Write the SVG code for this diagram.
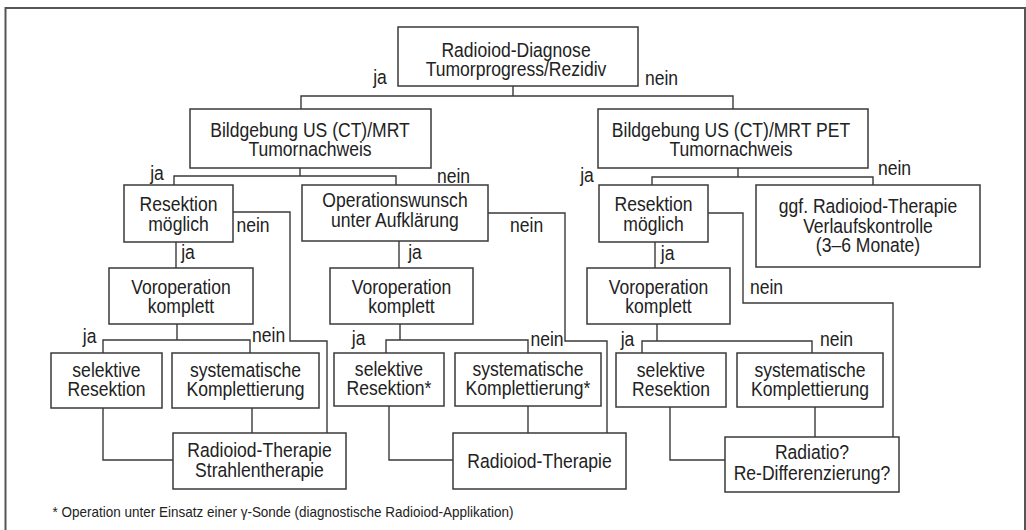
<svg xmlns="http://www.w3.org/2000/svg" width="1026" height="530" viewBox="0 0 1026 530">
  <style>
    .frame{fill:none;stroke:#555;stroke-width:2}
    .box{fill:#fff;stroke:#3a3a3a;stroke-width:1.5}
    .wire{fill:none;stroke:#3a3a3a;stroke-width:1.4}
    text{font-family:"Liberation Sans",Arial,sans-serif;font-size:19.5px;fill:#222;text-anchor:middle;
         transform-box:fill-box;transform-origin:center;transform:scaleX(0.9)}
    .note{font-size:15px}
  </style>
  <rect width="1026" height="530" fill="#fff"/>
  <!-- open outer frame -->
  <path class="frame" d="M5.5,535 V8 H1025 V535"/>

  <!-- connectors -->
  <g id="connectors">
    <path class="wire" d="M513,86 V96 M301,109 V96 H733 V109"/>
    <path class="wire" d="M300,168 V176 M174,185 V176 H396 V185"/>
    <path class="wire" d="M738,168 V177 M652,185 V177 H873 V185"/>
    <path class="wire" d="M176,242 V268"/>
    <path class="wire" d="M233,212 H290 V341 H327 V433"/>
    <path class="wire" d="M177,324 V340 M103,353 V340 H250 V353"/>
    <path class="wire" d="M103,408 V460 H173"/>
    <path class="wire" d="M252,408 V433"/>
    <path class="wire" d="M399,241 V268"/>
    <path class="wire" d="M488,213 H565 V341 H607 V433"/>
    <path class="wire" d="M400,324 V340 M386,353 V340 H528 V353"/>
    <path class="wire" d="M389,406 V460 H453"/>
    <path class="wire" d="M528,406 V433"/>
    <path class="wire" d="M655,242 V268"/>
    <path class="wire" d="M708,213 H743 V303 H893 V437"/>
    <path class="wire" d="M657,324 V341 M642,353 V341 H812 V353"/>
    <path class="wire" d="M670,407 V460 H725"/>
    <path class="wire" d="M815,407 V437"/>
  </g>

  <!-- branch labels -->
  <g id="labels">
    <text x="380" y="84">ja</text>
    <text x="661.5" y="85">nein</text>
    <text x="157" y="180">ja</text>
    <text x="453.5" y="183">nein</text>
    <text x="587" y="182.5">ja</text>
    <text x="894.5" y="175">nein</text>
    <text x="253" y="232">nein</text>
    <text x="188" y="259">ja</text>
    <text x="89.7" y="343">ja</text>
    <text x="268.7" y="342.3">nein</text>
    <text x="526.7" y="231.7">nein</text>
    <text x="415" y="259.3">ja</text>
    <text x="358.7" y="345">ja</text>
    <text x="547" y="345.7">nein</text>
    <text x="667.7" y="260">ja</text>
    <text x="766.5" y="294">nein</text>
    <text x="627.5" y="345.7">ja</text>
    <text x="836.5" y="345.7">nein</text>
  </g>

  <g id="n-diagnose">
    <rect class="box" x="398" y="27" width="240" height="59"/>
    <text x="516"><tspan x="516" y="57">Radioiod-Diagnose</tspan><tspan x="516" y="76.5">Tumorprogress/Rezidiv</tspan></text>
  </g>
  <g id="n-bild-left">
    <rect class="box" x="190" y="109" width="241" height="59"/>
    <text x="310"><tspan x="310" y="137">Bildgebung US (CT)/MRT</tspan><tspan x="310" y="156">Tumornachweis</tspan></text>
  </g>
  <g id="n-bild-right">
    <rect class="box" x="598" y="109" width="270" height="59"/>
    <text x="731"><tspan x="731" y="137">Bildgebung US (CT)/MRT PET</tspan><tspan x="731" y="156">Tumornachweis</tspan></text>
  </g>
  <g id="n-resektion-left">
    <rect class="box" x="124" y="185" width="109" height="57"/>
    <text x="178.5"><tspan x="178.5" y="210.7">Resektion</tspan><tspan x="178.5" y="230.7">möglich</tspan></text>
  </g>
  <g id="n-opwunsch">
    <rect class="box" x="302" y="185" width="186" height="56"/>
    <text x="395"><tspan x="395" y="207.3">Operationswunsch</tspan><tspan x="395" y="227.3">unter Aufklärung</tspan></text>
  </g>
  <g id="n-resektion-right">
    <rect class="box" x="599" y="185" width="109" height="57"/>
    <text x="653.5"><tspan x="653.5" y="210.7">Resektion</tspan><tspan x="653.5" y="230.7">möglich</tspan></text>
  </g>
  <g id="n-verlauf">
    <rect class="box" x="756" y="185" width="224" height="82"/>
    <text x="868"><tspan x="868" y="212.7">ggf. Radioiod-Therapie</tspan><tspan x="868" y="232.7">Verlaufskontrolle</tspan><tspan x="868" y="252">(3–6 Monate)</tspan></text>
  </g>
  <g id="n-vorop-left">
    <rect class="box" x="109" y="268" width="144" height="56"/>
    <text x="181"><tspan x="181" y="294">Voroperation</tspan><tspan x="181" y="313">komplett</tspan></text>
  </g>
  <g id="n-vorop-mid">
    <rect class="box" x="330" y="268" width="143" height="56"/>
    <text x="401.5"><tspan x="401.5" y="294">Voroperation</tspan><tspan x="401.5" y="313">komplett</tspan></text>
  </g>
  <g id="n-vorop-right">
    <rect class="box" x="587" y="268" width="143" height="56"/>
    <text x="658.5"><tspan x="658.5" y="294">Voroperation</tspan><tspan x="658.5" y="313">komplett</tspan></text>
  </g>
  <g id="n-sel-left">
    <rect class="box" x="51" y="353" width="111" height="55"/>
    <text x="106.5"><tspan x="106.5" y="376.7">selektive</tspan><tspan x="106.5" y="396">Resektion</tspan></text>
  </g>
  <g id="n-sys-left">
    <rect class="box" x="172" y="353" width="147" height="55"/>
    <text x="245.5"><tspan x="245.5" y="376.7">systematische</tspan><tspan x="245.5" y="396">Komplettierung</tspan></text>
  </g>
  <g id="n-sel-mid">
    <rect class="box" x="334" y="353" width="110" height="53"/>
    <text x="389"><tspan x="389" y="376">selektive</tspan><tspan x="389" y="395.5">Resektion*</tspan></text>
  </g>
  <g id="n-sys-mid">
    <rect class="box" x="455" y="353" width="146" height="53"/>
    <text x="528"><tspan x="528" y="376">systematische</tspan><tspan x="528" y="395.5">Komplettierung*</tspan></text>
  </g>
  <g id="n-sel-right">
    <rect class="box" x="616" y="353" width="110" height="54"/>
    <text x="671"><tspan x="671" y="376.7">selektive</tspan><tspan x="671" y="396">Resektion</tspan></text>
  </g>
  <g id="n-sys-right">
    <rect class="box" x="737" y="353" width="146" height="54"/>
    <text x="810"><tspan x="810" y="376.7">systematische</tspan><tspan x="810" y="396">Komplettierung</tspan></text>
  </g>
  <g id="n-therapie-left">
    <rect class="box" x="173" y="433" width="173" height="56"/>
    <text x="259.5"><tspan x="259.5" y="456.7">Radioiod-Therapie</tspan><tspan x="259.5" y="477.3">Strahlentherapie</tspan></text>
  </g>
  <g id="n-therapie-mid">
    <rect class="box" x="453" y="433" width="173" height="56"/>
    <text x="539.5" y="468">Radioiod-Therapie</text>
  </g>
  <g id="n-radiatio">
    <rect class="box" x="725" y="437" width="174" height="55"/>
    <text x="812"><tspan x="812" y="459.3">Radiatio?</tspan><tspan x="812" y="480">Re-Differenzierung?</tspan></text>
  </g>

  <text class="note" x="283" y="517">* Operation unter Einsatz einer γ-Sonde (diagnostische Radioiod-Applikation)</text>
</svg>
